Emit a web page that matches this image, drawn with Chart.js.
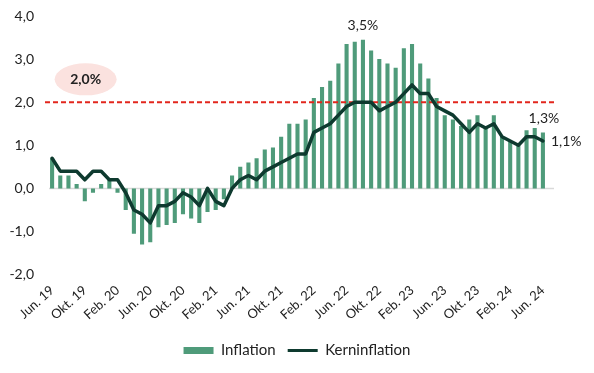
<!DOCTYPE html>
<html>
<head>
<meta charset="utf-8">
<script src="https://cdn.jsdelivr.net/npm/chart.js@4/dist/chart.umd.min.js"></script>
<style>
  html, body { margin: 0; padding: 0; background: #fff; }
</style>
</head>
<body>
<canvas id="myChart" width="594" height="373"></canvas>
<script>
// months, Jun 2019 - Jun 2024
const months = [
  'Jun. 19', 'Jul. 19', 'Aug. 19', 'Sep. 19', 'Okt. 19', 'Nov. 19', 'Dez. 19',
  'Jan. 20', 'Feb. 20', 'Mär. 20', 'Apr. 20', 'Mai 20', 'Jun. 20', 'Jul. 20', 'Aug. 20', 'Sep. 20', 'Okt. 20', 'Nov. 20', 'Dez. 20',
  'Jan. 21', 'Feb. 21', 'Mär. 21', 'Apr. 21', 'Mai 21', 'Jun. 21', 'Jul. 21', 'Aug. 21', 'Sep. 21', 'Okt. 21', 'Nov. 21', 'Dez. 21',
  'Jan. 22', 'Feb. 22', 'Mär. 22', 'Apr. 22', 'Mai 22', 'Jun. 22', 'Jul. 22', 'Aug. 22', 'Sep. 22', 'Okt. 22', 'Nov. 22', 'Dez. 22',
  'Jan. 23', 'Feb. 23', 'Mär. 23', 'Apr. 23', 'Mai 23', 'Jun. 23', 'Jul. 23', 'Aug. 23', 'Sep. 23', 'Okt. 23', 'Nov. 23', 'Dez. 23',
  'Jan. 24', 'Feb. 24', 'Mär. 24', 'Apr. 24', 'Mai 24', 'Jun. 24'
];

const inflation = [
  0.7, 0.3, 0.3, 0.1, -0.3, -0.1, 0.1,
  0.2, -0.1, -0.5, -1.05, -1.3, -1.25, -0.9, -0.85, -0.8, -0.6, -0.7, -0.8,
  -0.55, -0.5, -0.25, 0.3, 0.5, 0.6, 0.7, 0.9, 0.95, 1.2, 1.5, 1.5,
  1.6, 2.1, 2.35, 2.5, 2.9, 3.35, 3.4, 3.45, 3.2, 3.0, 2.9, 2.8,
  3.25, 3.35, 2.9, 2.55, 2.1, 1.7, 1.6, 1.45, 1.6, 1.7, 1.4, 1.7,
  1.2, 1.1, 1.0, 1.35, 1.4, 1.3
];

const coreInflation = [
  0.7, 0.4, 0.4, 0.4, 0.2, 0.4, 0.4,
  0.2, 0.2, -0.1, -0.5, -0.6, -0.8, -0.4, -0.4, -0.3, -0.1, -0.2, -0.4,
  0.0, -0.3, -0.4, 0.0, 0.2, 0.3, 0.2, 0.4, 0.5, 0.6, 0.7, 0.8,
  0.8, 1.3, 1.4, 1.5, 1.7, 1.9, 2.0, 2.0, 2.0, 1.8, 1.9, 2.0,
  2.2, 2.4, 2.2, 2.2, 1.9, 1.8, 1.7, 1.5, 1.3, 1.5, 1.4, 1.5,
  1.2, 1.1, 1.0, 1.2, 1.2, 1.1
];

const yMin = -2;
const yMax = 4;
const targetRate = 2.0;
const targetLabel = '2,0%';
const peakLabel = '3,5%';
const lastInflationLabel = '1,3%';
const lastCoreLabel = '1,1%';

const fmt = v => v.toFixed(1).replace('.', ',');
const FONT = 'Lato';
const TEXT = '#222';

// zero line, 2% target line, and the value notes
const extras = {
  id: 'extras',
  beforeDatasetsDraw(chart) {
    const { ctx, chartArea, scales: { y } } = chart;
    const y0 = y.getPixelForValue(0);
    ctx.save();
    ctx.strokeStyle = '#d9d9d9';
    ctx.lineWidth = 1.5;
    ctx.beginPath();
    ctx.moveTo(chartArea.left + 1, y0);
    ctx.lineTo(chartArea.right + 7, y0);
    ctx.stroke();
    ctx.restore();
  },
  afterDatasetDraw(chart, args) {
    if (args.index !== 0) return; // right after the bars, under the line
    const { ctx, chartArea, scales: { y } } = chart;
    const yt = y.getPixelForValue(targetRate);
    ctx.save();
    ctx.strokeStyle = '#e2261d';
    ctx.lineWidth = 2;
    ctx.setLineDash([5, 3]);
    ctx.beginPath();
    ctx.moveTo(chartArea.left - 3, yt);
    ctx.lineTo(chartArea.right + 7, yt);
    ctx.stroke();
    ctx.restore();
  },
  afterDraw(chart) {
    const { ctx, scales: { x, y } } = chart;
    const last = months.length - 1;
    ctx.save();

    // pink badge for the target
    const ex = x.getPixelForValue(4.1);
    const ey = y.getPixelForValue(2.53);
    ctx.fillStyle = '#fbe2df';
    ctx.beginPath();
    ctx.ellipse(ex, ey, 31, 16, 0, 0, Math.PI * 2);
    ctx.fill();
    ctx.fillStyle = TEXT;
    ctx.font = 'bold 14px ' + FONT;
    ctx.textAlign = 'center';
    ctx.textBaseline = 'middle';
    ctx.fillText(targetLabel, ex, ey);

    ctx.font = '14px ' + FONT;
    // peak
    let pk = 0;
    inflation.forEach((v, i) => { if (v > inflation[pk]) pk = i; });
    ctx.fillText(peakLabel, x.getPixelForValue(pk), y.getPixelForValue(inflation[pk]) - 14);
    // last values
    ctx.fillText(lastInflationLabel, x.getPixelForValue(last) + 1, y.getPixelForValue(inflation[last]) - 14);
    ctx.textAlign = 'left';
    ctx.fillText(lastCoreLabel, x.getPixelForValue(last) + 8, y.getPixelForValue(coreInflation[last]));
    ctx.restore();
  }
};

const ctx = document.getElementById('myChart');
const chart = new Chart(ctx, {
  type: 'bar',
  data: {
    labels: months,
    datasets: [{
      type: 'bar',
      label: 'Inflation',
      data: inflation,
      backgroundColor: '#4f9b7a',
      borderWidth: 0,
      barPercentage: 0.5,
      categoryPercentage: 1,
      order: 1
    }, {
      type: 'line',
      label: 'Kerninflation',
      data: coreInflation,
      borderColor: '#0e3a2f',
      backgroundColor: '#0e3a2f',
      borderWidth: 3.5,
      pointRadius: 0,
      tension: 0,
      borderJoinStyle: 'round',
      borderCapStyle: 'round',
      order: 0
    }]
  },
  options: {
    responsive: false,
    animation: false,
    layout: { padding: { left: 10, right: 10, top: 16, bottom: 5 } },
    scales: {
      x: {
        grid: { display: false, drawTicks: false },
        border: { display: false },
        // room on the right for the end labels
        afterFit: s => { s.paddingLeft = 0; s.paddingRight = 47; },
        ticks: {
          autoSkip: false,
          minRotation: 42,
          maxRotation: 42,
          padding: 8,
          color: TEXT,
          font: { family: FONT, size: 13 },
          callback: (v, i) => (i % 4 === 0 ? months[i] : '')
        }
      },
      y: {
        min: yMin,
        max: yMax,
        grid: { display: false, drawTicks: false },
        border: { display: false },
        afterFit: s => { s.width = 38; s.paddingTop = 0; s.paddingBottom = 0; },
        ticks: {
          stepSize: 1,
          padding: 14,
          color: TEXT,
          font: { family: FONT, size: 14 },
          callback: v => fmt(v)
        }
      }
    },
    plugins: {
      tooltip: { enabled: false },
      legend: {
        position: 'bottom',
        labels: {
          usePointStyle: true,
          pointStyleWidth: 30,
          boxHeight: 7,
          padding: 12,
          color: TEXT,
          font: { family: FONT, size: 15 },
          sort: (a, b) => a.datasetIndex - b.datasetIndex,
          generateLabels(chart) {
            const items = Chart.defaults.plugins.legend.labels.generateLabels(chart);
            items.forEach(it => {
              it.pointStyle = it.datasetIndex === 0 ? 'rect' : 'line';
              if (it.datasetIndex === 1) it.lineWidth = 3;
            });
            return items;
          }
        }
      }
    }
  },
  plugins: [extras]
});
</script>
</body>
</html>
